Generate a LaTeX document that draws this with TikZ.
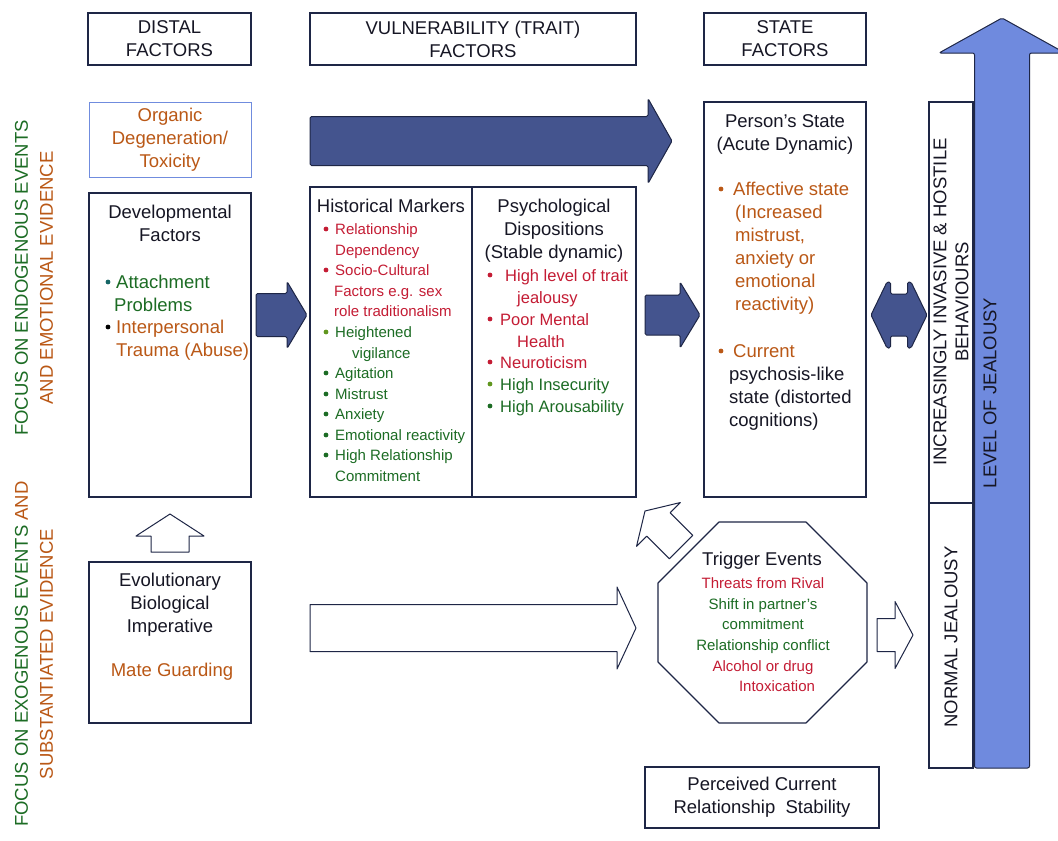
\documentclass[tikz,border=0pt]{standalone}
\usepackage{fontspec}
\setmainfont{Liberation Sans}

\definecolor{navy}{RGB}{30,38,70}
\definecolor{ink}{RGB}{22,22,36}
\definecolor{darkfill}{RGB}{68,84,142}
\definecolor{levelblue}{RGB}{111,138,222}
\definecolor{organicblue}{RGB}{112,140,222}
\definecolor{tgreen}{RGB}{28,108,36}
\definecolor{tolive}{RGB}{96,150,30}
\definecolor{torange}{RGB}{186,88,22}
\definecolor{tred}{RGB}{196,28,52}
\definecolor{tteal}{RGB}{22,102,102}

\newcommand\fbig{\fontsize{18.5}{23}\selectfont}
\newcommand\fmid{\fontsize{16.5}{21.8}\selectfont}
\newcommand\fsml{\fontsize{15}{20.6}\selectfont}
\newcommand\fside{\fontsize{18.5}{25}\selectfont}
\newcommand\fvert{\fontsize{18.5}{22}\selectfont}
% coloured list bullet: colour, x, y
\newcommand\itemdot[3]{\fill[#1] (#2,#3) circle[radius=2.4pt];}

\tikzset{
  frame/.style={draw=navy, line width=1.1pt, fill=white, inner sep=0pt},
  txt/.style={inner sep=0pt, text=ink, font=\fbig},
  solidarrow/.style={draw=navy, fill=darkfill, line width=1pt, rounded corners=1.5pt, line join=round},
  hollowarrow/.style={draw=navy, fill=white, line width=1pt, line join=round},
  % block arrow with its tip at the origin, pointing along +x:
  % total length, shaft width, head width, head length
  pics/blockarrow/.style n args={4}{code={
    \path[pic actions] (0,0) -- (-#4,-#3/2) -- (-#4,-#2/2) -- (-#1,-#2/2)
      -- (-#1,#2/2) -- (-#4,#2/2) -- (-#4,#3/2) -- cycle;
  }}
}

\begin{document}
\begin{tikzpicture}[x=1pt,y=-1pt]
\useasboundingbox[fill=white] (0,0) rectangle (1058,841);

% ---- side captions ----
\node[txt, font=\fside, rotate=90, align=center] (endo) at (34,278)
  {\textcolor{tgreen}{FOCUS ON ENDOGENOUS EVENTS}\\\textcolor{torange}{AND EMOTIONAL EVIDENCE}};
\node[txt, font=\fside, rotate=90, align=center] (exo) at (34,654)
  {\textcolor{tgreen}{FOCUS ON EXOGENOUS EVENTS} \textcolor{torange}{AND}\\\textcolor{torange}{SUBSTANTIATED EVIDENCE}};

% ---- column headings ----
\node[frame, minimum width=163, minimum height=52] (distal) at (169.5,39) {};
\node[txt, align=center] at (distal) {DISTAL\\FACTORS};
\node[frame, minimum width=326, minimum height=52] (vuln) at (473,39) {};
\node[txt, align=center] at (vuln) {VULNERABILITY (TRAIT)\\FACTORS};
\node[frame, minimum width=162, minimum height=52] (statef) at (785,39) {};
\node[txt, align=center] at (statef) {STATE\\FACTORS};

% ---- distal factors ----
\node[frame, draw=organicblue, line width=1pt, minimum width=162, minimum height=75] (organic) at (170,139.5) {};
\node[txt, align=center, text=torange] at (organic) {Organic\\Degeneration/\\Toxicity};

\node[frame, minimum width=162, minimum height=304] (devel) at (170,345) {};
\node[txt, align=center, anchor=north] (develhead) at (170,205.3) {Developmental\\Factors};
\itemdot{tteal}{108}{282}
\node[txt, align=left, anchor=north west, text=tgreen] (attach) at (116,275.3) {Attachment\\\hspace*{-2pt}Problems};
\itemdot{black}{108}{327}
\node[txt, align=left, anchor=north west, text=torange] (trauma) at (116,320.3) {Interpersonal\\Trauma (Abuse)};

\node[frame, minimum width=162, minimum height=161] (evol) at (170,642.5) {};
\node[txt, align=center, anchor=north] (evolhead) at (170,573.3) {Evolutionary\\Biological\\Imperative};
\node[txt, text=torange] (mate) at (172,672) {Mate Guarding};

% ---- vulnerability factors ----
\node[frame, minimum width=162, minimum height=310] (hist) at (391,342) {};
\node[txt] (histhead) at (391,206) {Historical Markers};
\begin{scope}[every node/.style={txt, font=\fsml, align=left, anchor=north west}]
  \itemdot{tred}{326}{229}
  \node[text=tred] (h1) at (335,223.6) {Relationship\\Dependency};
  \itemdot{tred}{326}{270}
  \node[text=tred] (h2) at (335,264.6) {Socio-Cultural\\\hspace*{-1pt}Factors e.g. sex\\\hspace*{-1pt}role traditionalism};
  \itemdot{tolive}{326}{332}
  \node[text=tgreen] (h3) at (335,326.6) {Heightened\\\hspace*{17pt}vigilance};
  \itemdot{tgreen}{326}{373}
  \node[text=tgreen] (h4) at (335,367.6) {Agitation};
  \itemdot{tgreen}{326}{394}
  \node[text=tgreen] (h5) at (335,388.6) {Mistrust};
  \itemdot{tgreen}{326}{414}
  \node[text=tgreen] (h6) at (335,408.6) {Anxiety};
  \itemdot{tgreen}{326}{435}
  \node[text=tgreen] (h7) at (335,429.6) {Emotional reactivity};
  \itemdot{tgreen}{326}{455}
  \node[text=tgreen] (h8) at (335,449.6) {High Relationship\\Commitment};
\end{scope}

\node[frame, minimum width=164, minimum height=310] (psych) at (554,342) {};
\node[txt, align=center, anchor=north] (psychhead) at (554,199.3) {Psychological\\Dispositions\\(Stable dynamic)};
\begin{scope}[every node/.style={txt, font=\fmid, align=left, anchor=north west}]
  \itemdot{tred}{490}{275}
  \node[text=tred] (p1) at (505,269.1) {High level of trait\\\hspace*{12pt}jealousy};
  \itemdot{tred}{490}{319}
  \node[text=tred] (p2) at (500,313.1) {Poor Mental\\\hspace*{17pt}Health};
  \itemdot{tred}{490}{362}
  \node[text=tred] (p3) at (500,356.1) {Neuroticism};
  \itemdot{tolive}{490}{384}
  \node[text=tgreen] (p4) at (500,378.1) {High Insecurity};
  \itemdot{tgreen}{490}{406}
  \node[text=tgreen] (p5) at (500,400.1) {High Arousability};
\end{scope}

% ---- state factors ----
\node[frame, minimum width=162, minimum height=395] (person) at (785,299.5) {};
\node[txt, align=center, anchor=north] (personhead) at (785,114.3) {Person’s State\\(Acute Dynamic)};
\itemdot{torange}{721}{189}
\node[txt, align=left, anchor=north west, text=torange] (affect) at (733,182.3)
  {Affective state\\\hspace*{2pt}(Increased\\\hspace*{2pt}mistrust,\\\hspace*{2pt}anxiety or\\\hspace*{2pt}emotional\\\hspace*{2pt}reactivity)};
\itemdot{torange}{721}{351}
\node[txt, align=left, anchor=north west] (psychosis) at (733,344.3)
  {\textcolor{torange}{Current}\\\hspace*{-4pt}psychosis-like\\\hspace*{-4pt}state (distorted\\\hspace*{-4pt}cognitions)};

% ---- trigger events ----
\draw[navy, line width=1.1pt, fill=white, line join=round]
  (719,522) -- (806,522) -- (867,583) -- (867,662) -- (806,723) -- (719,723) -- (658,662) -- (658,583) -- cycle;
\node[txt] (trigger) at (762,561) {Trigger Events};
\node[txt, font=\fsml, align=center, anchor=north] (triggers) at (763,577.6)
  {\textcolor{tred}{Threats from Rival}\\\textcolor{tgreen}{Shift in partner’s}\\\textcolor{tgreen}{commitment}\\
   \textcolor{tgreen}{Relationship conflict}\\\textcolor{tred}{Alcohol or drug}\\\hspace*{28pt}\textcolor{tred}{Intoxication}};

\node[frame, minimum width=234, minimum height=61] (perceived) at (762,797.5) {};
\node[txt, align=center] at (perceived) {Perceived Current\\Relationship\ \ Stability};

% ---- jealousy scale ----
\node[frame, minimum width=44, minimum height=401] (invasive) at (951,302.5) {};
\node[txt, font=\fvert, rotate=90, align=center] at (951,302) {INCREASINGLY INVASIVE \& HOSTILE\\BEHAVIOURS};
\node[frame, minimum width=44, minimum height=265] (normal) at (951,635.5) {};
\node[txt, rotate=90] at (951,637) {NORMAL JEALOUSY};
\pic[draw=navy, fill=levelblue, line width=1pt, rounded corners=2pt, line join=round, rotate=90]
  at (1002,18) {blockarrow={750}{55}{126}{35}};
\node[txt, rotate=90] (level) at (990,393) {LEVEL OF JEALOUSY};

% ---- flow arrows ----
\pic[solidarrow] at (672,141) {blockarrow={362}{49}{85}{24}};
\pic[solidarrow] at (307,315) {blockarrow={51}{43}{67}{20}};
\pic[solidarrow] at (700,315) {blockarrow={55}{40}{66}{20}};
\draw[solidarrow] (871,315) -- (887,282) -- (890.5,282) -- (890.5,294) -- (907.5,294) -- (907.5,282)
  -- (911,282) -- (927,315) -- (911,348) -- (907.5,348) -- (907.5,336) -- (890.5,336) -- (890.5,348) -- (887,348) -- cycle;

\pic[hollowarrow, rotate=90] at (170,514) {blockarrow={38}{38}{68}{22}};
\pic[hollowarrow] at (636,628) {blockarrow={326}{47}{82}{19}};
\pic[hollowarrow, rotate=135] at (645,511) {blockarrow={51}{33}{62}{19}};
\pic[hollowarrow] at (913,635) {blockarrow={36}{33}{67}{18}};
\end{tikzpicture}
\end{document}
